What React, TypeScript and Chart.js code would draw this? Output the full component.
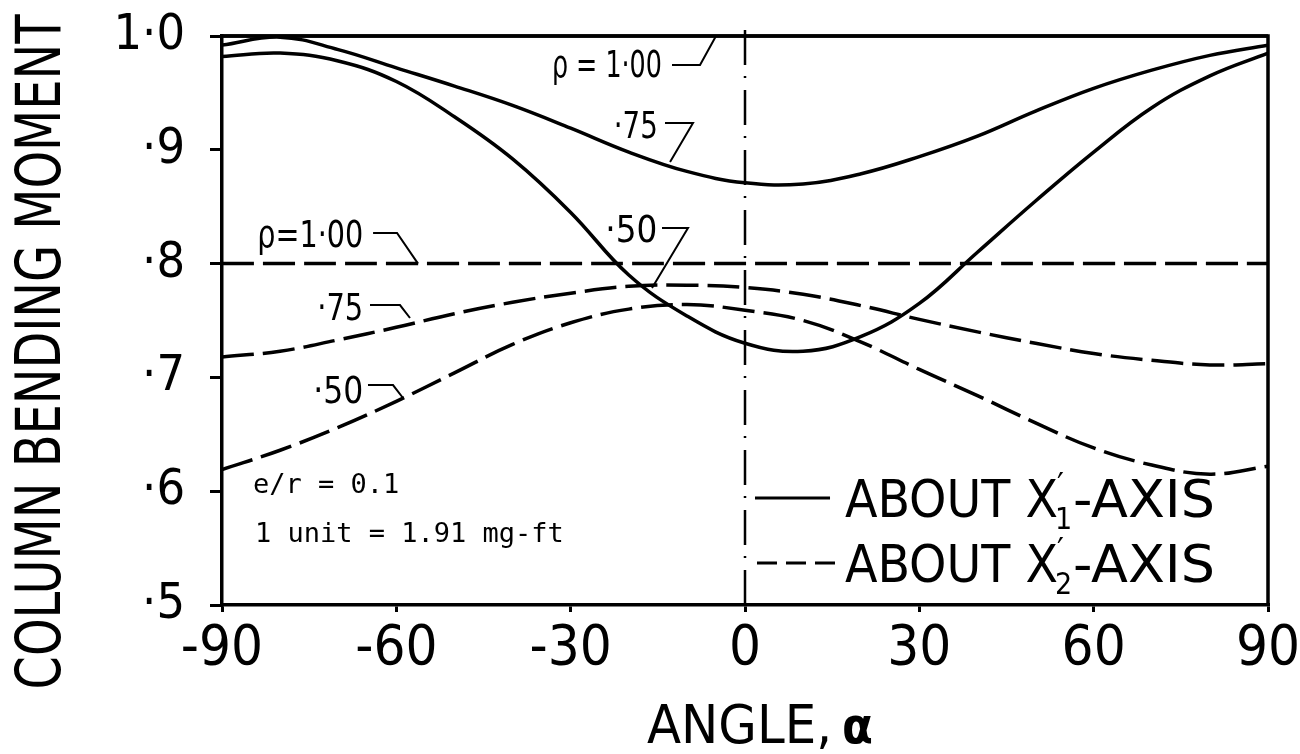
import React, { useEffect, useRef } from 'react';
import { Chart, registerables } from 'chart.js';

Chart.register(...registerables);

// ---- Data ----
const angles = [-90, -80, -70, -60, -50, -40, -30, -20, -10, 0, 10, 20, 30, 40, 50, 60, 70, 80, 90];

// About X1'-axis (solid)
const solidRho100 = [1.0, 1.0, 1.0, 1.0, 1.0, 1.0, 1.0, 1.0, 1.0, 1.0, 1.0, 1.0, 1.0, 1.0, 1.0, 1.0, 1.0, 1.0, 1.0];
const solidRho075 = [0.992, 0.999, 0.988, 0.972, 0.956, 0.939, 0.919, 0.898, 0.881, 0.871, 0.870, 0.879, 0.894, 0.912, 0.934, 0.954, 0.970, 0.983, 0.992];
const solidRho050 = [0.982, 0.985, 0.978, 0.960, 0.929, 0.892, 0.845, 0.790, 0.754, 0.730, 0.723, 0.736, 0.765, 0.810, 0.855, 0.898, 0.937, 0.965, 0.985];

// About X2'-axis (dashed)
const dashedRho100 = [0.8, 0.8, 0.8, 0.8, 0.8, 0.8, 0.8, 0.8, 0.8, 0.8, 0.8, 0.8, 0.8, 0.8, 0.8, 0.8, 0.8, 0.8, 0.8];
const dashedRho075 = [0.718, 0.723, 0.733, 0.744, 0.756, 0.766, 0.774, 0.780, 0.781, 0.779, 0.773, 0.763, 0.751, 0.740, 0.730, 0.721, 0.715, 0.711, 0.712];
const dashedRho050 = [0.619, 0.636, 0.656, 0.679, 0.704, 0.729, 0.748, 0.760, 0.764, 0.759, 0.750, 0.731, 0.707, 0.684, 0.660, 0.638, 0.623, 0.615, 0.622];

// zero reference (dash-dot vertical)
const zeroLineX = [0, 0];
const zeroLineY = [0.5, 1.012];

// Tick labels
const yTickValues = [0.5, 0.6, 0.7, 0.8, 0.9, 1.0];
const yTickLabels = ['·5', '·6', '·7', '·8', '·9', '1·0'];
const xTickValues = [-90, -60, -30, 0, 30, 60, 90];

// Curve labels: [text, text width px, anchor angle (right end), anchor value (baseline), leader points as [angle, value]]
const curveLabels: [string, number, number, number, [number, number][]][] = [
  ['ρ = 1·00', 110, -14.3, 0.964, [[-12.56, 0.9745], [-7.74, 0.9745], [-4.99, 1.0]]],
  ['·75', 44, -15.0, 0.9104, [[-13.77, 0.9236], [-8.95, 0.9236], [-12.9, 0.8893]]],
  ['·50', 52, -15.1, 0.819, [[-14.28, 0.8313], [-9.81, 0.8313], [-16.0, 0.7786]]],
  ['ρ=1·00', 106, -65.7, 0.8146, [[-64.0, 0.8269], [-59.88, 0.8269], [-56.27, 0.8]]],
  ['·75', 46, -65.7, 0.7504, [[-64.53, 0.7636], [-59.37, 0.7636], [-57.65, 0.7522]]],
  ['·50', 50, -65.7, 0.6775, [[-64.88, 0.6933], [-60.57, 0.6933], [-58.85, 0.6819]]],
];

const noteLines = ['e/r = 0.1', '1 unit = 1.91 mg-ft'];

const NARROW = "'Liberation Sans Narrow', 'DejaVu Sans Condensed', 'Liberation Sans', sans-serif";
const MONO = "'DejaVu Sans Mono', 'Liberation Mono', monospace";

function fitText(ctx: CanvasRenderingContext2D, text: string, x: number, y: number, width: number) {
  const w = ctx.measureText(text).width;
  ctx.save();
  ctx.translate(x, y);
  ctx.scale(width / w, 1);
  ctx.textAlign = 'left';
  ctx.fillText(text, 0, 0);
  ctx.restore();
}

const overlayPlugin = {
  id: 'overlay',
  afterDatasetsDraw(chart: any) {
    const ctx: CanvasRenderingContext2D = chart.ctx;
    const xs = chart.scales.x;
    const ys = chart.scales.y;
    const ca = chart.chartArea;
    const px = (a: number) => xs.getPixelForValue(a);
    const py = (v: number) => ys.getPixelForValue(v);
    ctx.save();
    ctx.fillStyle = '#000';
    ctx.strokeStyle = '#000';

    // frame top & right
    ctx.lineWidth = 3.5;
    ctx.beginPath();
    ctx.moveTo(ca.left, ca.top);
    ctx.lineTo(ca.right, ca.top);
    ctx.lineTo(ca.right, ca.bottom);
    ctx.stroke();

    // curve labels with leaders
    ctx.textBaseline = 'alphabetic';
    for (const [text, tw, a, v, pts] of curveLabels) {
      ctx.font = `38px ${NARROW}`;
      fitText(ctx, text, px(a) - tw, py(v), tw);
      ctx.lineWidth = 2;
      ctx.beginPath();
      pts.forEach(([pa, pv], i) => {
        if (i === 0) ctx.moveTo(px(pa), py(pv));
        else ctx.lineTo(px(pa), py(pv));
      });
      ctx.stroke();
    }

    // notes
    ctx.font = `27px ${MONO}`;
    ctx.textAlign = 'left';
    ctx.fillText(noteLines[0], ca.left + 31, ca.bottom - 112);
    ctx.fillText(noteLines[1], ca.left + 33, ca.bottom - 63);

    // legend
    const lx0 = px(1.72), lx1 = px(14.63), tx = px(17.2);
    const r1 = ca.bottom - 88, r2 = ca.bottom - 23;
    ctx.lineWidth = 3;
    ctx.setLineDash([]);
    ctx.beginPath();
    ctx.moveTo(lx0, r1 - 19);
    ctx.lineTo(lx1, r1 - 19);
    ctx.stroke();
    ctx.setLineDash([20, 9]);
    ctx.beginPath();
    ctx.moveTo(lx0 + 2, r2 - 19);
    ctx.lineTo(lx1 + 10, r2 - 19);
    ctx.stroke();
    ctx.setLineDash([]);
    const drawLegendText = (base: number, sub: string) => {
      ctx.font = `52px ${NARROW}`;
      fitText(ctx, 'ABOUT X', tx, base, 213);
      ctx.font = `30px ${NARROW}`;
      ctx.textAlign = 'left';
      ctx.fillText(sub, tx + 210, base + 12);
      ctx.font = `34px ${NARROW}`;
      ctx.fillText('′', tx + 212, base - 20);
      ctx.font = `52px ${NARROW}`;
      fitText(ctx, '-AXIS', tx + 228, base, 142);
    };
    drawLegendText(r1, '1');
    drawLegendText(r2, '2');

    // y title
    ctx.save();
    ctx.translate(60, 352);
    ctx.rotate(-Math.PI / 2);
    ctx.font = `62px ${NARROW}`;
    const yt = 'COLUMN BENDING MOMENT';
    const yw = ctx.measureText(yt).width;
    ctx.scale(675 / yw, 1);
    ctx.textAlign = 'center';
    ctx.fillText(yt, 0, 0);
    ctx.restore();

    // x title
    ctx.font = `53px ${NARROW}`;
    fitText(ctx, 'ANGLE,', 647, 743, 185);
    ctx.font = `bold 50px ${NARROW}`;
    ctx.textAlign = 'left';
    ctx.fillText('α', 842, 743);

    ctx.restore();
  },
};

export default function App() {
  const ref = useRef<HTMLCanvasElement | null>(null);
  useEffect(() => {
    if (!ref.current) return;
    const toXY = (vals: number[]) => angles.map((a, i) => ({ x: a, y: vals[i] }));
    const base = { pointRadius: 0, borderColor: '#000', tension: 0.4, fill: false };
    const chart = new Chart(ref.current, {
      type: 'line',
      data: {
        datasets: [
          { ...base, label: 'ρ=1.00 about X1′', data: toXY(solidRho100), borderWidth: 3.5, clip: false },
          { ...base, label: 'ρ=.75 about X1′', data: toXY(solidRho075), borderWidth: 3.5 },
          { ...base, label: 'ρ=.50 about X1′', data: toXY(solidRho050), borderWidth: 3.5 },
          { ...base, label: 'ρ=1.00 about X2′', data: toXY(dashedRho100), borderWidth: 3.5, borderDash: [32, 9] },
          { ...base, label: 'ρ=.75 about X2′', data: toXY(dashedRho075), borderWidth: 3.5, borderDash: [32, 9] },
          { ...base, label: 'ρ=.50 about X2′', data: toXY(dashedRho050), borderWidth: 3.5, borderDash: [32, 9] },
          { ...base, label: 'α = 0', data: zeroLineX.map((x, i) => ({ x, y: zeroLineY[i] })), borderWidth: 2.5, borderDash: [35, 12, 2, 11], tension: 0, clip: false },
        ],
      },
      options: {
        responsive: false,
        animation: false,
        devicePixelRatio: 1,
        layout: { padding: { top: 36, right: 32, left: 0, bottom: 0 } },
        plugins: { legend: { display: false }, tooltip: { enabled: false } },
        scales: {
          x: {
            type: 'linear',
            min: -90,
            max: 90,
            afterFit: (s: any) => { s.height = 149; s.paddingLeft = 0; s.paddingRight = 0; },
            afterBuildTicks: (s: any) => { s.ticks = xTickValues.map((v) => ({ value: v })); },
            ticks: { color: '#000', font: { family: NARROW, size: 56 }, padding: 4, maxRotation: 0, callback: (v: any) => String(v) },
            grid: { display: true, drawOnChartArea: false, drawTicks: true, tickLength: 7, color: '#000', lineWidth: 3 },
            border: { display: true, color: '#000', width: 3.5 },
          },
          y: {
            type: 'linear',
            min: 0.5,
            max: 1.0,
            afterFit: (s: any) => { s.width = 222; s.paddingTop = 0; s.paddingBottom = 0; },
            afterBuildTicks: (s: any) => { s.ticks = yTickValues.map((v) => ({ value: v })); },
            ticks: {
              color: '#000',
              font: { family: NARROW, size: 50 },
              padding: 25,
              callback: (v: any) => {
                const i = yTickValues.findIndex((t) => Math.abs(t - v) < 1e-6);
                return i >= 0 ? yTickLabels[i] : '';
              },
            },
            grid: { display: true, drawOnChartArea: false, drawTicks: true, tickLength: 12, color: '#000', lineWidth: 3 },
            border: { display: true, color: '#000', width: 3.5 },
          },
        },
      },
      plugins: [overlayPlugin],
    } as any);
    return () => chart.destroy();
  }, []);
  return (
    <div style={{ position: 'absolute', left: 0, top: 0, width: 1300, height: 754, background: '#fff' }}>
      <canvas ref={ref} width={1300} height={754} style={{ width: 1300, height: 754, display: 'block' }} />
    </div>
  );
}
